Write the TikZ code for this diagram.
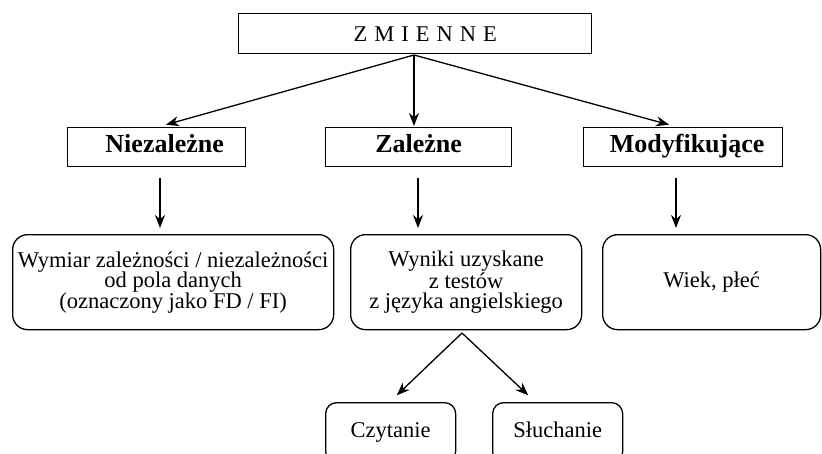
\documentclass[tikz,border=0pt]{standalone}
\usepackage{fontspec}
\setmainfont{Liberation Serif}
\usetikzlibrary{arrows.meta}
\newcommand{\lsp}{\hspace{7pt}}
\begin{document}
\begin{tikzpicture}[x=1pt,y=-1pt,
  sqbox/.style={draw,line width=1.3pt,inner sep=0pt,minimum height=39pt},
  rbox/.style={draw,line width=1.3pt,rounded corners=15pt,inner sep=0pt,align=center,minimum height=95pt,font=\fontsize{22.5}{20.5}\selectfont},
  smbox/.style={draw,line width=1.3pt,rounded corners=11pt,inner sep=0pt,minimum height=60pt,text height=15pt,text depth=5pt,font=\fontsize{22.5}{24}\selectfont},
  hd/.style={font=\fontsize{26}{28}\selectfont\bfseries,text height=17pt,text depth=6pt},
  arr/.style={-{Stealth[length=13pt,width=10pt]},line width=1.3pt,shorten >=1pt}]
\useasboundingbox (0,0) rectangle (822,453);
\node[sqbox,minimum width=353pt,minimum height=40pt,font=\fontsize{22.5}{24}\selectfont,anchor=north west] (top) at (238,13) {\hspace*{20pt}Z\lsp M\lsp I\lsp E\lsp N\lsp N\lsp E};
\node[sqbox,hd,minimum width=178pt,anchor=north west] (nz) at (67,127) {\hspace*{16pt}Niezależne};
\node[sqbox,hd,minimum width=186pt,anchor=north west] (zl) at (325,127) {Zależne};
\node[sqbox,hd,minimum width=199pt,anchor=north west] (md) at (583,127) {\hspace*{8pt}Modyfikujące};
\node[rbox,minimum width=321pt,anchor=north west] (b1) at (12,234) {Wymiar zależności / niezależności\\od pola danych\\(oznaczony jako FD / FI)};
\node[rbox,minimum width=231pt,anchor=north west] (b2) at (350,234) {Wyniki uzyskane\\z testów\\z języka angielskiego};
\node[rbox,minimum width=218pt,anchor=north west] (b3) at (602,234) {Wiek, płeć};
\node[smbox,minimum width=130pt,anchor=north west] (cz) at (325,402) {Czytanie};
\node[smbox,minimum width=130pt,anchor=north west] (sl) at (492,402) {Słuchanie};
\coordinate (t0) at (414,55);
\coordinate (e1) at (165,125);
\coordinate (e3) at (670,125);
\draw[arr] (t0) -- (e1);
\draw[arr] (t0) -- (zl.north -| t0);
\draw[arr] (t0) -- (e3);
\draw[arr,shorten <=11pt,shorten >=6pt] (nz.south -| 160,0) -- (b1.north -| 160,0);
\draw[arr,shorten <=11pt,shorten >=6pt] (zl.south -| 418,0) -- (b2.north -| 418,0);
\draw[arr,shorten <=11pt,shorten >=6pt] (md.south -| 676,0) -- (b3.north -| 676,0);
\coordinate (s0) at (462,333);
\coordinate (c1) at (396,396);
\coordinate (c2) at (529,396);
\draw[arr] (s0) -- (c1);
\draw[arr] (s0) -- (c2);
\end{tikzpicture}
\end{document}
